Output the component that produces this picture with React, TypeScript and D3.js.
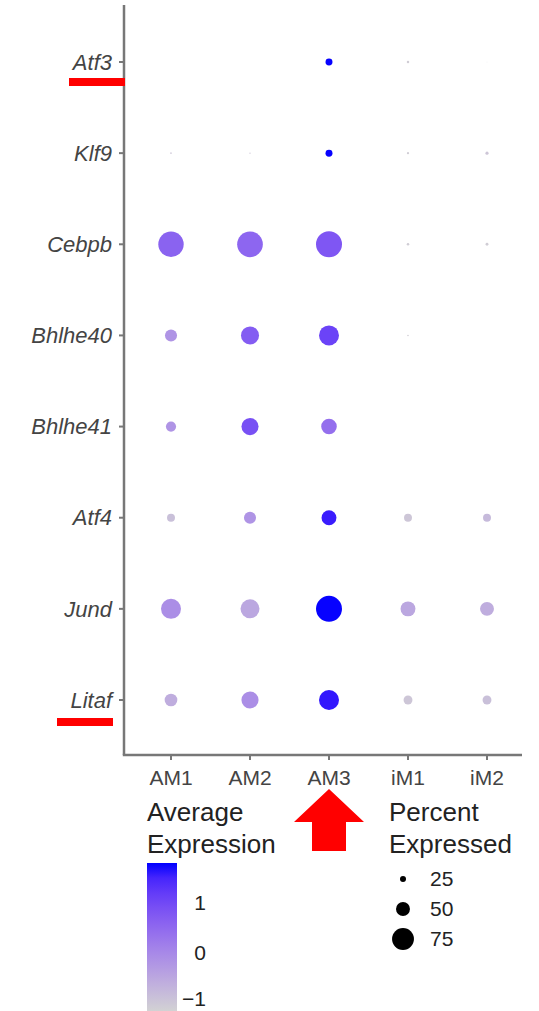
import React from "react";
import * as d3 from "d3";

// genes top to bottom, clusters left to right
const genes = ["Atf3", "Klf9", "Cebpb", "Bhlhe40", "Bhlhe41", "Atf4", "Jund", "Litaf"];
const clusters = ["AM1", "AM2", "AM3", "iM1", "iM2"];

// percent of cells expressing, one row per gene
const pctAtf3 = [2, 2, 28, 14, 8];
const pctKlf9 = [11, 10, 28, 13, 16];
const pctCebpb = [86, 87, 88, 14, 15];
const pctBhlhe40 = [44, 63, 69, 11, 3];
const pctBhlhe41 = [38, 60, 55, 3, 3];
const pctAtf4 = [31, 44, 53, 31, 31];
const pctJund = [69, 66, 88, 53, 50];
const pctLitaf = [46, 60, 69, 34, 34];

// scaled average expression, one row per gene
const expAtf3 = [-1, -1, 1.8, -1.1, -1.1];
const expKlf9 = [-1, -1, 1.8, -1.1, -1.0];
const expCebpb = [0.6, 0.55, 0.8, -1.1, -1.1];
const expBhlhe40 = [-0.2, 0.7, 1.1, -1.1, -1.2];
const expBhlhe41 = [-0.2, 0.9, 0.4, -1.2, -1.2];
const expAtf4 = [-0.9, -0.2, 1.6, -1.0, -0.8];
const expJund = [-0.1, -0.5, 1.8, -0.5, -0.6];
const expLitaf = [-0.6, -0.1, 1.65, -1.0, -0.9];

const pctRows = [pctAtf3, pctKlf9, pctCebpb, pctBhlhe40, pctBhlhe41, pctAtf4, pctJund, pctLitaf];
const expRows = [expAtf3, expKlf9, expCebpb, expBhlhe40, expBhlhe41, expAtf4, expJund, expLitaf];

const colorTicks = [-1, 0, 1];
const sizeTicks = [25, 50, 75];
const expRange = [-1.2, 1.81];
const pctRange = [6, 88];

const W = 539;
const H = 1011;
const FONT = "Liberation Sans, Arial, sans-serif";

export default function App() {
  const x = d3.scalePoint<string>().domain(clusters).range([171, 487]);
  const y = d3.scalePoint<string>().domain(genes).range([62, 700]);
  const size = d3.scaleLinear().domain(pctRange).range([0, 13]).clamp(true);
  const color = d3
    .scaleLinear<string>()
    .domain(expRange)
    .range(["#D3D3D3", "#0000FF"])
    .interpolate(d3.interpolateLab);

  const axisX0 = 124;
  const axisX1 = 522;
  const axisY0 = 5;
  const axisY1 = 755;

  // colour bar
  const barY = d3.scaleLinear().domain(expRange).range([1012, 863]);
  const stops = d3.range(0, 1.0001, 0.1).map(t => ({
    off: t,
    c: color(expRange[1] - t * (expRange[1] - expRange[0])),
  }));

  const cells = genes.flatMap((g, gi) =>
    clusters.map((c, ci) => ({ g, c, pct: pctRows[gi][ci], exp: expRows[gi][ci] }))
  );

  const arrowX = x("AM3")!;
  const underlines = [
    { gene: "Atf3", x0: 69, x1: 125, dy: 20 },
    { gene: "Litaf", x0: 57, x1: 113, dy: 22 },
  ];

  return (
    <svg
      width={W}
      height={H}
      style={{ position: "absolute", left: 0, top: 0, background: "#fff", fontFamily: FONT }}
    >
      <defs>
        <linearGradient id="expGrad" x1="0" y1="0" x2="0" y2="1">
          {stops.map((s, i) => (
            <stop key={i} offset={s.off} stopColor={s.c} />
          ))}
        </linearGradient>
      </defs>

      {/* axes */}
      <line x1={axisX0} x2={axisX0} y1={axisY0} y2={axisY1} stroke="#777" strokeWidth={2.5} />
      <line x1={axisX0 - 1.2} x2={axisX1} y1={axisY1} y2={axisY1} stroke="#777" strokeWidth={2.5} />

      {genes.map(g => (
        <g key={g} transform={`translate(0,${y(g)})`}>
          <line x1={axisX0 - 5} x2={axisX0} stroke="#777" strokeWidth={2} />
          <text
            x={axisX0 - 12}
            dy="0.35em"
            textAnchor="end"
            fontSize={22}
            fontStyle="italic"
            fill="#444"
          >
            {g}
          </text>
        </g>
      ))}

      {clusters.map(c => (
        <g key={c} transform={`translate(${x(c)},${axisY1})`}>
          <line y1={0} y2={5} stroke="#777" strokeWidth={2} />
          <text y={30} textAnchor="middle" fontSize={21} fill="#444">
            {c}
          </text>
        </g>
      ))}

      {/* dots */}
      {cells.map(d => (
        <circle
          key={d.g + d.c}
          cx={x(d.c)}
          cy={y(d.g)}
          r={size(d.pct)}
          fill={color(d.exp)}
        />
      ))}

      {/* annotations */}
      {underlines.map(u => (
        <rect
          key={u.gene}
          x={u.x0}
          y={y(u.gene)! + u.dy - 4}
          width={u.x1 - u.x0}
          height={8}
          fill="#ff0000"
        />
      ))}
      <path
        d={`M${arrowX},789 L${arrowX + 35},822 L${arrowX + 17},822 L${arrowX + 17},851 L${arrowX - 17},851 L${arrowX - 17},822 L${arrowX - 35},822 Z`}
        fill="#ff0000"
      />

      {/* colour legend */}
      <text x={147} y={821} fontSize={26} fill="#222">Average</text>
      <text x={147} y={853} fontSize={26} fill="#222">Expression</text>
      <rect x={147} y={barY(expRange[1])} width={30} height={barY(expRange[0]) - barY(expRange[1])} fill="url(#expGrad)" />
      {colorTicks.map(t => (
        <text
          key={t}
          x={206}
          y={Math.min(barY(t), H - 12)}
          dy="0.35em"
          textAnchor="end"
          fontSize={21}
          fill="#222"
        >
          {t < 0 ? "\u2212" + Math.abs(t) : t}
        </text>
      ))}

      {/* size legend */}
      <text x={389} y={821} fontSize={26} fill="#222">Percent</text>
      <text x={389} y={853} fontSize={26} fill="#222">Expressed</text>
      {sizeTicks.map((s, i) => (
        <g key={s} transform={`translate(0,${879 + i * 30})`}>
          <circle cx={403} r={size(s)} fill="#000" />
          <text x={430} dy="0.35em" fontSize={21} fill="#222">
            {s}
          </text>
        </g>
      ))}
    </svg>
  );
}
